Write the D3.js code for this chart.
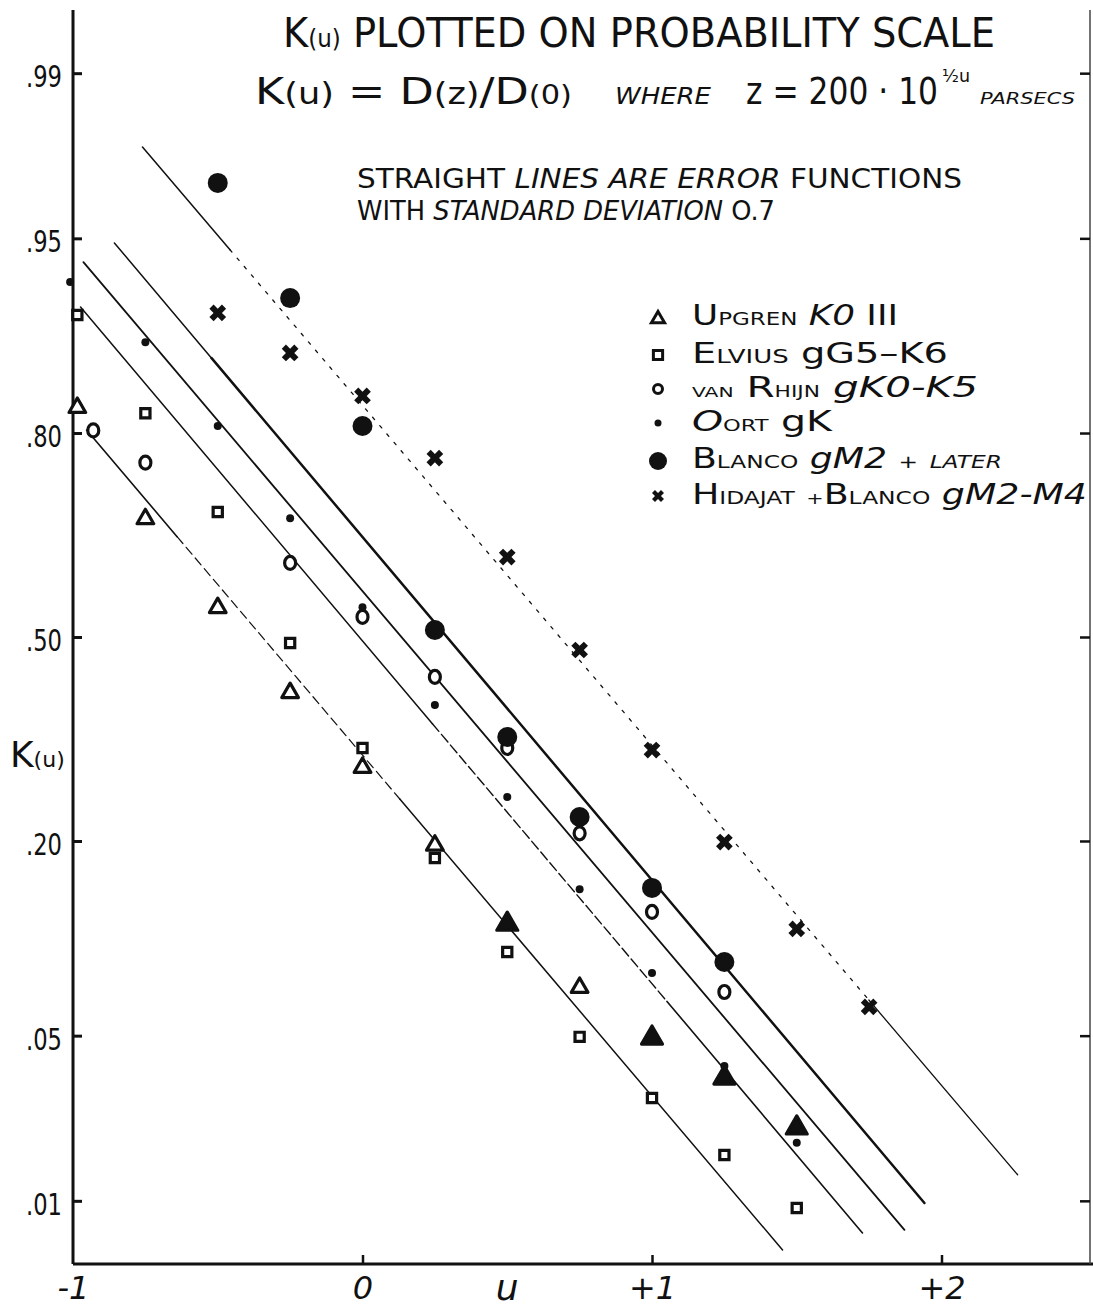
<!DOCTYPE html>
<html>
<head>
<meta charset="UTF-8">
<title>K(u) on probability scale</title>
<script src="https://cdn.jsdelivr.net/npm/d3@7/dist/d3.min.js"></script>
<style>
  body { margin: 0; background: #fff; }
  svg { display: block; }
  text { font-family: "DejaVu Sans", sans-serif; fill: #111; }
</style>
</head>
<body>
<svg id="chart" width="1093" height="1311"></svg>
<script>
// ---- data: u and K(u) ----
var uUpgren = [-0.985, -0.75, -0.5, -0.25, 0, 0.25, 0.5, 0.75, 1, 1.25, 1.5];
var kUpgren = [0.828, 0.687, 0.548, 0.409, 0.295, 0.195, 0.118, 0.074, 0.049, 0.0344, 0.0214];
var upgrenFilled = [false, false, false, false, false, false, true, false, true, true, true];

var uElvius = [-0.985, -0.75, -0.5, -0.25, 0, 0.25, 0.5, 0.75, 1, 1.25, 1.5];
var kElvius = [0.908, 0.822, 0.697, 0.490, 0.3235, 0.181, 0.0968, 0.0495, 0.0286, 0.0163, 0.00924];

var uRhijn = [-0.93, -0.75, -0.25, 0, 0.25, 0.5, 0.75, 1, 1.25];
var kRhijn = [0.803, 0.764, 0.620, 0.533, 0.4345, 0.3235, 0.209, 0.1283, 0.0715];

var uOort = [-1.01, -0.75, -0.5, -0.25, 0, 0.25, 0.5, 0.75, 1, 1.25, 1.5];
var kOort = [0.9285, 0.888, 0.808, 0.688, 0.549, 0.3895, 0.2546, 0.149, 0.0829, 0.0384, 0.01844];

var uBlanco = [-0.5, -0.25, 0, 0.25, 0.5, 0.75, 1, 1.25];
var kBlanco = [0.9695, 0.919, 0.808, 0.5115, 0.340, 0.2288, 0.1503, 0.090];

var uHidajat = [-0.5, -0.25, 0, 0.25, 0.5, 0.75, 1, 1.25, 1.5, 1.75];
var kHidajat = [0.9094, 0.8794, 0.840, 0.7698, 0.6293, 0.4786, 0.3205, 0.1988, 0.1142, 0.0635];

// error-function lines (sigma 0.7), end points [u, K]
var lineTop = [[-0.76, 0.9784], [2.263, 0.01325]];
var lineB   = [[-0.857, 0.948], [1.941, 0.00977]];
var lineC   = [[-0.964, 0.939], [1.872, 0.00722]];
var lineD   = [[-0.974, 0.9133], [1.727, 0.00697]];
var lineE   = [[-0.953, 0.8034], [1.451, 0.00572]];

var yTicks = [0.01, 0.05, 0.20, 0.50, 0.80, 0.95, 0.99];
var yTickLabels = [".01", ".05", ".20", ".50", ".80", ".95", ".99"];
var xTicks = [-1, 0, 1, 2];
var xTickLabels = ["-1", "0", "+1", "+2"];

// inverse normal (Acklam)
function probit(p) {
  var a = [-3.969683028665376e+01, 2.209460984245205e+02, -2.759285104469687e+02, 1.383577518672690e+02, -3.066479806614716e+01, 2.506628277459239e+00];
  var b = [-5.447609879822406e+01, 1.615858368580409e+02, -1.556989798598866e+02, 6.680131188771972e+01, -1.328068155288572e+01];
  var c = [-7.784894002430293e-03, -3.223964580411365e-01, -2.400758277161838e+00, -2.549732539343734e+00, 4.374664141464968e+00, 2.938163982698783e+00];
  var d = [7.784695709041462e-03, 3.224671290700398e-01, 2.445134137142996e+00, 3.754408661907416e+00];
  var pl = 0.02425, q, r;
  if (p < pl) {
    q = Math.sqrt(-2 * Math.log(p));
    return (((((c[0]*q+c[1])*q+c[2])*q+c[3])*q+c[4])*q+c[5]) / ((((d[0]*q+d[1])*q+d[2])*q+d[3])*q+1);
  }
  if (p > 1 - pl) {
    q = Math.sqrt(-2 * Math.log(1 - p));
    return -(((((c[0]*q+c[1])*q+c[2])*q+c[3])*q+c[4])*q+c[5]) / ((((d[0]*q+d[1])*q+d[2])*q+d[3])*q+1);
  }
  q = p - 0.5; r = q * q;
  return (((((a[0]*r+a[1])*r+a[2])*r+a[3])*r+a[4])*r+a[5])*q / (((((b[0]*r+b[1])*r+b[2])*r+b[3])*r+b[4])*r+1);
}

var svg = d3.select("#chart");
var x = d3.scaleLinear().domain([-1, 2.5]).range([73, 1086.25]);
var z = d3.scaleLinear().domain([-2.587, 2.587]).range([1264, 10]);
function y(k) { return z(probit(k)); }

var yBottom = z.range()[0], yTop = z.range()[1];

// frame
svg.append("line").attr("x1", x(-1)).attr("x2", 1093).attr("y1", yBottom).attr("y2", yBottom)
  .attr("stroke", "#111").attr("stroke-width", 3);
svg.append("line").attr("x1", x(-1)).attr("x2", x(-1)).attr("y1", yTop).attr("y2", yBottom)
  .attr("stroke", "#111").attr("stroke-width", 3);
svg.append("line").attr("x1", 1090).attr("x2", 1090).attr("y1", yTop).attr("y2", yBottom)
  .attr("stroke", "#444").attr("stroke-width", 1.5);

// left axis
var yAxis = svg.append("g").attr("transform", "translate(" + x(-1) + ",0)")
  .call(d3.axisLeft(z).tickValues(yTicks.map(probit))
    .tickFormat(function(d, i) { return yTickLabels[i]; })
    .tickSize(-9).tickPadding(11));
yAxis.select(".domain").remove();
yAxis.selectAll(".tick line").attr("stroke", "#111").attr("stroke-width", 3);
yAxis.selectAll(".tick text").attr("font-size", 30).attr("fill", "#111")
  .attr("dy", "0.45em").attr("textLength", 36).attr("lengthAdjust", "spacingAndGlyphs");

// right ticks
var yAxisR = svg.append("g").attr("transform", "translate(1090,0)")
  .call(d3.axisLeft(z).tickValues(yTicks.map(probit)).tickFormat("").tickSize(10));
yAxisR.select(".domain").remove();
yAxisR.selectAll(".tick line").attr("stroke", "#111").attr("stroke-width", 2.5);

// bottom axis
var xAxis = svg.append("g").attr("transform", "translate(0," + yBottom + ")")
  .call(d3.axisBottom(x).tickValues(xTicks)
    .tickFormat(function(d, i) { return xTickLabels[i]; })
    .tickSize(-9).tickPadding(12));
xAxis.select(".domain").remove();
xAxis.selectAll(".tick line").attr("stroke", "#111").attr("stroke-width", 2.5);
xAxis.selectAll(".tick text").attr("font-size", 32).attr("font-style", "italic")
  .attr("fill", "#111").attr("dy", "0.71em");
xAxis.selectAll(".tick").filter(function(d) { return d === -1; }).select("line").remove();

svg.append("text").attr("x", x(0.5)).attr("y", 1300).attr("text-anchor", "middle")
  .attr("font-size", 36).attr("font-style", "italic").text("u");

svg.append("text").attr("x", 10).attr("y", 767).attr("font-size", 36)
  .html('K<tspan font-size="22">(u)</tspan>');

// lines
var lineStyles = [
  { pts: lineTop, segs: [[0, 0.10, null, 1.5], [0.10, 0.83, "3 8", 1.3], [0.83, 1, null, 1.3]] },
  { pts: lineB, segs: [[0, 0.12, null, 1.5], [0.12, 1, null, 2.5]] },
  { pts: lineC, segs: [[0, 1, null, 1.8]] },
  { pts: lineD, segs: [[0, 0.45, null, 1.5], [0.45, 0.75, "10 4", 1.4], [0.75, 1, null, 1.6]] },
  { pts: lineE, segs: [[0, 0.13, null, 1.6], [0.13, 0.45, "9 5", 1.2], [0.45, 1, null, 1.5]] }
];
var gl = svg.append("g");
lineStyles.forEach(function(L) {
  var p0 = [x(L.pts[0][0]), y(L.pts[0][1])], p1 = [x(L.pts[1][0]), y(L.pts[1][1])];
  var ip = d3.interpolate(p0, p1);
  L.segs.forEach(function(s) {
    var a = ip(s[0]).slice(), b = ip(s[1]).slice();
    gl.append("path").attr("d", d3.line()([a, b]))
      .attr("fill", "none").attr("stroke", "#111").attr("stroke-width", s[3])
      .attr("stroke-linecap", "round")
      .attr("stroke-dasharray", s[2]);
  });
});

// markers
var tri = d3.symbol().type(d3.symbolTriangle);
var sq = d3.symbol().type(d3.symbolSquare).size(85);
var cross = d3.symbol().type(d3.symbolCross).size(175);

var gm = svg.append("g");

gm.selectAll(".eh").data(d3.zip(uElvius, kElvius)).join("path")
  .attr("transform", function(d) { return "translate(" + x(d[0]) + "," + y(d[1]) + ")"; })
  .attr("d", sq()).attr("fill", "#fff").attr("stroke", "#111").attr("stroke-width", 3.2);

gm.selectAll(".up").data(d3.zip(uUpgren, kUpgren, upgrenFilled)).join("path")
  .attr("transform", function(d) { return "translate(" + x(d[0]) + "," + y(d[1]) + ")"; })
  .attr("d", function(d) { return tri.size(d[2] ? 190 : 120)(); })
  .attr("fill", function(d) { return d[2] ? "#111" : "#fff"; })
  .attr("stroke", "#111").attr("stroke-width", 3.2).attr("stroke-linejoin", "round");

gm.selectAll(".rh").data(d3.zip(uRhijn, kRhijn)).join("ellipse")
  .attr("cx", function(d) { return x(d[0]); }).attr("cy", function(d) { return y(d[1]); })
  .attr("rx", 5.5).attr("ry", 6.5).attr("fill", "#fff").attr("stroke", "#111").attr("stroke-width", 3.2);

gm.selectAll(".oo").data(d3.zip(uOort, kOort)).join("circle")
  .attr("cx", function(d) { return x(d[0]); }).attr("cy", function(d) { return y(d[1]); })
  .attr("r", 4).attr("fill", "#111");

gm.selectAll(".bl").data(d3.zip(uBlanco, kBlanco)).join("circle")
  .attr("cx", function(d) { return x(d[0]); }).attr("cy", function(d) { return y(d[1]); })
  .attr("r", 10).attr("fill", "#111");

gm.selectAll(".hb").data(d3.zip(uHidajat, kHidajat)).join("path")
  .attr("transform", function(d) { return "translate(" + x(d[0]) + "," + y(d[1]) + ") rotate(45)"; })
  .attr("d", cross()).attr("fill", "#111");

// titles
svg.append("text").attr("x", 283).attr("y", 47).attr("font-size", 40)
  .attr("textLength", 712).attr("lengthAdjust", "spacingAndGlyphs")
  .html('K<tspan font-size="24">(u)</tspan> PLOTTED ON PROBABILITY  SCALE');

svg.append("text").attr("x", 255).attr("y", 104).attr("font-size", 38)
  .attr("textLength", 317).attr("lengthAdjust", "spacingAndGlyphs")
  .html('K<tspan font-size="30">(u)</tspan> = D<tspan font-size="30">(z)</tspan>/D<tspan font-size="26">(0)</tspan>');
svg.append("text").attr("x", 615).attr("y", 104).attr("font-size", 23).attr("font-style", "italic")
  .attr("textLength", 96).attr("lengthAdjust", "spacingAndGlyphs").text("WHERE");
svg.append("text").attr("x", 746).attr("y", 104).attr("font-size", 38)
  .attr("textLength", 192).attr("lengthAdjust", "spacingAndGlyphs").text("z = 200 · 10");
svg.append("text").attr("x", 942).attr("y", 82).attr("font-size", 18)
  .attr("textLength", 28).attr("lengthAdjust", "spacingAndGlyphs").text("½u");
svg.append("text").attr("x", 980).attr("y", 104).attr("font-size", 16).attr("font-style", "italic")
  .attr("textLength", 95).attr("lengthAdjust", "spacingAndGlyphs").text("PARSECS");

svg.append("text").attr("x", 357).attr("y", 188).attr("font-size", 26)
  .attr("textLength", 605).attr("lengthAdjust", "spacingAndGlyphs")
  .html('STRAIGHT <tspan font-style="italic">LINES ARE ERROR</tspan> FUNCTIONS');
svg.append("text").attr("x", 357).attr("y", 220).attr("font-size", 26)
  .attr("textLength", 418).attr("lengthAdjust", "spacingAndGlyphs")
  .html('WITH <tspan font-style="italic">STANDARD DEVIATION</tspan> O.7');

// legend
var legendRows = [
  { y: 325, len: 206, html: 'U<tspan font-size="18">PGREN</tspan>  <tspan font-style="italic">K0</tspan> III' },
  { y: 363, len: 256, html: 'E<tspan font-size="19">LVIUS</tspan>  gG5–K6' },
  { y: 397, len: 286, html: '<tspan font-size="14">VAN</tspan> R<tspan font-size="15">HIJN</tspan>  <tspan font-style="italic">gK0-K5</tspan>' },
  { y: 431, len: 140, html: '<tspan font-style="italic">O</tspan><tspan font-size="16">ORT</tspan>  gK' },
  { y: 468, len: 310, html: 'B<tspan font-size="18">LANCO</tspan>  <tspan font-style="italic">gM2</tspan> <tspan font-size="18">+</tspan> <tspan font-size="18" font-style="italic">LATER</tspan>' },
  { y: 504, len: 395, html: 'H<tspan font-size="18">IDAJAT</tspan> <tspan font-size="16">+</tspan>B<tspan font-size="18">LANCO</tspan>  <tspan font-style="italic">gM2-M4</tspan>' }
];
var legendX = 692, markX = 658;
legendRows.forEach(function(r) {
  svg.append("text").attr("x", legendX).attr("y", r.y).attr("font-size", 28)
    .attr("textLength", r.len).attr("lengthAdjust", "spacingAndGlyphs").html(r.html);
});
var gLeg = svg.append("g");
gLeg.append("path").attr("transform", "translate(" + markX + ",319)").attr("d", tri.size(75)())
  .attr("fill", "#fff").attr("stroke", "#111").attr("stroke-width", 3);
gLeg.append("path").attr("transform", "translate(" + markX + ",355)").attr("d", sq())
  .attr("fill", "#fff").attr("stroke", "#111").attr("stroke-width", 3);
gLeg.append("ellipse").attr("cx", markX).attr("cy", 389).attr("rx", 4.5).attr("ry", 4.5)
  .attr("fill", "#fff").attr("stroke", "#111").attr("stroke-width", 3);
gLeg.append("circle").attr("cx", markX).attr("cy", 423).attr("r", 3.5).attr("fill", "#111");
gLeg.append("circle").attr("cx", markX).attr("cy", 461).attr("r", 9).attr("fill", "#111");
gLeg.append("path").attr("transform", "translate(" + markX + ",496) rotate(45)")
  .attr("d", d3.symbol().type(d3.symbolCross).size(90)()).attr("fill", "#111");
</script>
</body>
</html>
